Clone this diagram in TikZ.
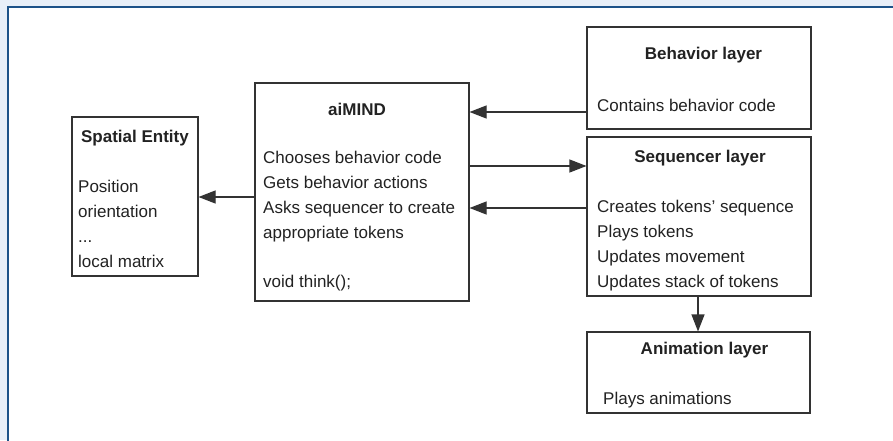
\documentclass[tikz,border=0pt]{standalone}
\usepackage{fontspec}
\setmainfont{Liberation Sans}
\usetikzlibrary{arrows.meta}
\definecolor{pagebg}{HTML}{E8EFF8}
\definecolor{framecol}{HTML}{1D5288}
\definecolor{boxline}{HTML}{333333}
\definecolor{inktext}{HTML}{222222}
\begin{document}
\begin{tikzpicture}[x=1pt,y=1pt,
  box/.style={draw=boxline, line width=1.1pt, fill=white, inner sep=0pt},
  title/.style={font=\fontsize{17}{20}\selectfont\bfseries, anchor=base, inner sep=0pt, text=inktext},
  body/.style={font=\fontsize{17}{20}\selectfont, anchor=base west, inner sep=0pt, text=inktext},
  arr/.style={draw=boxline, line width=1.1pt, -{Triangle[length=17pt,width=13pt]}}]
\useasboundingbox (0,0) rectangle (893,440);
% page background and frame
\fill[pagebg] (0,0) rectangle (893,440);
\fill[white] (8,-5) rectangle (900,433);
\draw[framecol, line width=1.5pt] (8,-5) -- (8,433) -- (900,433);

% boxes
\node[box, minimum width=126pt, minimum height=159pt] (spatial) at (135,243.5) {};
\node[box, minimum width=214pt, minimum height=218pt] (ai) at (362,248) {};
\node[box, minimum width=224pt, minimum height=102pt] (beh) at (699,362) {};
\node[box, minimum width=224pt, minimum height=159pt] (seq) at (699,223.5) {};
\node[box, minimum width=223pt, minimum height=81pt] (anim) at (698.5,67.5) {};

% Spatial Entity
\node[title] (spT) at (135,298) {Spatial Entity};
\node[body] (sp1) at (78,248) {Position};
\node[body] (sp2) at (78,223) {orientation};
\node[body] (sp3) at (78,198) {...};
\node[body] (sp4) at (78,173) {local matrix};

% aiMIND
\node[title] (aiT) at (357,324) {aiMIND};
\node[body] (ai1) at (263,277) {Chooses behavior code};
\node[body] (ai2) at (263,252) {Gets behavior actions};
\node[body] (ai3) at (263,227) {Asks sequencer to create};
\node[body] (ai4) at (263,202) {appropriate tokens};
\node[body] (ai5) at (263,153) {void think();};

% Behavior layer
\node[title] (behT) at (703.5,380) {Behavior layer};
\node[body] (beh1) at (597,329) {Contains behavior code};

% Sequencer layer
\node[title] (seqT) at (700,278) {Sequencer layer};
\node[body] (seq1) at (597,228) {Creates tokens\char"0027\ sequence};
\node[body] (seq2) at (597,203) {Plays tokens};
\node[body] (seq3) at (597,178) {Updates movement};
\node[body] (seq4) at (597,153) {Updates stack of tokens};

% Animation layer
\node[title] (animT) at (704.5,86) {Animation layer};
\node[body] (anim1) at (603,36) {Plays animations};

% connector heights
\coordinate (yBeh) at (0,328);
\coordinate (ySeqIn) at (0,274);
\coordinate (ySeqOut) at (0,232);
\coordinate (ySp) at (0,243);
\coordinate (xAnim) at (698,0);

% connectors
\draw[arr] (beh.west |- yBeh) -- (ai.east |- yBeh);
\draw[arr] (ai.east |- ySeqIn) -- (seq.west |- ySeqIn);
\draw[arr] (seq.west |- ySeqOut) -- (ai.east |- ySeqOut);
\draw[arr] (ai.west |- ySp) -- (spatial.east |- ySp);
\draw[arr] (xAnim |- seq.south) -- (xAnim |- anim.north);
\end{tikzpicture}
\end{document}
